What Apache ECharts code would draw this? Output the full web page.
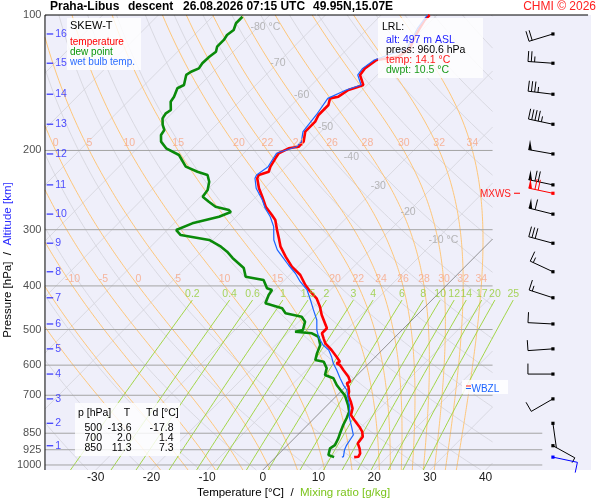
<!DOCTYPE html>
<html>
<head>
<meta charset="utf-8">
<script src="https://cdn.jsdelivr.net/npm/echarts@6/dist/echarts.min.js"></script>
<style>
html, body { margin: 0; padding: 0; background: #fff; }
#chart { width: 600px; height: 500px; }
</style>
</head>
<body>
<div id="chart"></div>
<script>
// sounding profile (pressure hPa / temperature degC)
var tempP = [100,102.6,107.1,111.7,118.6,123.8,125.9,131.4,135.9,143.1,144.3,146.8,151.9,153.2,158.5,166.8,172.6,181.7,191.2,196.2,197.8,202.9,208.2,217.3,223,226.8,230.6,242.7,253.4,266.7,278.3,285.5,300.5,313.4,327.2,344.4,362.4,378.2,398.1,412,426.3,444.9,464.2,496.8,509.7,523,536.6,555.2,574.5,589.4,594.3,599.5,615,636.5,653,658.3,669.9,687.3,700,723.4,748.3,774.3,794.3,822,843.3,865.2,895.2,918.3,942,958.4,960.6];
var tempT = [-51.3,-51.3,-50.7,-50.1,-48.9,-49.5,-52.8,-53.4,-53.1,-50.7,-51.3,-52.5,-53.1,-54.3,-53.4,-53.4,-52.8,-52.8,-51.3,-51.3,-52.8,-53.7,-53.4,-52.8,-52.2,-53.4,-53.1,-51.0,-48.9,-46.5,-43.9,-42.4,-40.3,-38.5,-36.7,-34.0,-31.1,-28.1,-25.4,-23.3,-21.0,-18.9,-17.1,-13.8,-13.8,-12.6,-11.4,-9.1,-7.0,-5.5,-5.8,-4.9,-3.4,-1.3,-0.1,-0.4,0.5,1.5,2.0,3.6,5.1,6.0,7.5,9.6,11.0,12.0,12.3,13.5,14.5,14.8,14.1];

var dewP = [100.9,104.3,108,110.8,113.6,117.6,120.7,123.8,128,131.4,133.7,135.9,143.1,145.5,151.9,155.9,162.6,165.4,169.7,175.5,180.1,184.8,191.2,197.8,204.7,217.3,223,226.8,234.7,244.9,253.4,260,266.7,271.3,274.1,280.7,285.5,290.4,300.5,308.3,316.2,327.2,335.7,346.7,364.9,381.5,388,404.8,408.4,419,437.3,448.6,460.2,468.2,480.3,501.2,505.6,509.7,518.8,541.3,564.9,584.6,589.4,609.6,631,641.7,664.3,687.3,700,735.6,761.3,787.4,814.9,850,872.5,903.3,918.3,950.1,960.6];
var dewT = [-84.6,-84.6,-83.8,-84.1,-83.8,-83.8,-83.1,-83.4,-83.5,-83.2,-84.0,-84.3,-82.9,-83.5,-82.6,-82.3,-80.8,-81.1,-80.8,-79.6,-78.4,-78.1,-76.9,-74.8,-71.3,-68.0,-65.0,-62.6,-61.1,-59.9,-59.6,-57.6,-55.5,-52.5,-51.8,-53.1,-54.9,-56.7,-58.4,-56.7,-50.7,-47.4,-45.4,-43.3,-39.5,-37.6,-33.8,-31.7,-30.5,-30.2,-29.3,-25.4,-23.9,-20.4,-18.9,-17.8,-18.9,-15.6,-13.8,-12.0,-11.1,-10.2,-8.4,-6.7,-5.8,-3.7,-1.9,0.2,1.4,3.7,5.1,5.8,6.4,7.3,7.9,8.5,8.2,9.1,10.5];

var wetP = [100,107.1,118.6,125.9,131.4,135.9,143.1,146.8,153.2,166.8,181.7,191.2,196.2,202.9,217.3,226.8,230.6,242.7,257.7,268.9,280.7,295.4,316.2,332.7,344.4,359.4,374.9,391.5,408.4,429.9,452.2,476.1,501.2,518.8,541.3,555.2,574.5,594.3,615,641.7,664.3,681.3,711,742.1,781.2,822,857.7,880,903.3,926.4,958.4,960.6];
var wetT = [-51.7,-51.1,-49.4,-53.2,-53.8,-53.5,-51.1,-52.9,-54.7,-53.8,-53.2,-51.7,-51.7,-54.1,-53.2,-53.8,-53.5,-51.5,-48.3,-46.3,-43.9,-41.5,-39.1,-36.7,-34.6,-32.0,-29.3,-26.9,-24.2,-21.8,-19.5,-17.1,-15.3,-13.8,-11.5,-9.6,-7.9,-6.4,-4.6,-2.5,-0.7,0.8,2.5,4.3,6.0,8.2,10.0,10.3,10.6,11.1,12.1,11.9];

// altitude marks (km) and the pressure where they sit; winds at those levels
var altKm = [1,2,3,4,5,6,7,8,9,10,11,12,13,14,15,16];
var altP = [906,808,713,628,552,486,425,372,321.5,277,238.5,203.6,174.9,150,128,110.2];
var windDir = [119,172,240,270,266,273,288,295,285,284,282,280,282,277,274,253];
var windKt = [5,2,10,10,10,10,15,15,30,60,70,50,45,35,25,20];
var mxwsP = 249, mxwsDir = 282, mxwsKt = 70;
var sfcP = 960.6, sfcDir = 102, sfcKt = 10;
var wbzlP = 671;

var pressTicks = [100,200,300,400,500,600,700,850,925,1000];
var pressLines = [200,300,400,500,600,700,850,925,1000];
var isoLabelT = [-80,-70,-60,-50,-40,-30,-20,-10];
var isoLabelP = [106.3,127.8,150.6,177.4,206.8,239.9,274.1,316.2];
var mixRatios = [0.2,0.4,0.6,1,1.5,2,3,4,6,8,10,12,14,17,20,25];
var thetaW = [-20,-15,-10,-5,0,5,10,15,20,22,24,26,28,30,32,34];

var tableP = [500,700,850];
var tableT = [-13.6,2.0,11.3];
var tableTd = [-17.8,1.4,7.3];
var lrlAlt = 497, lrlPress = 960.6, lrlTemp = 14.1, lrlDwpt = 10.5;

// diagram geometry
var PB = 1026, SKEW = 80.36;
var XL = (45 - 264) / 5.6, XR = (495 - 264) / 5.6, XR2 = (545 - 264) / 5.6, XEND = (591 - 264) / 5.6;
var XALT = (50 - 264) / 5.6, XBARB = (555.7 - 264) / 5.6;
var FONT = '"Liberation Sans", Arial, sans-serif';
var BRK = ['-', '-'];

function sx(T, p) { return T + SKEW * Math.log10(PB / p); }

function clipInto(out, pts, xl, xr) {
    var prevIn = null;
    for (var i = 0; i < pts.length; i++) {
        var x = pts[i][0], p = pts[i][1];
        var inside = x >= xl && x <= xr;
        if (i > 0 && inside !== prevIn) {
            var x0 = pts[i - 1][0], p0 = pts[i - 1][1];
            var b = (x < xl || x0 < xl) ? xl : xr;
            var t = (b - x0) / (x - x0);
            out.push([b, Math.exp(Math.log(p0) + t * (Math.log(p) - Math.log(p0)))]);
            if (!inside) out.push(BRK);
        }
        if (inside) out.push([x, p]);
        prevIn = inside;
    }
    out.push(BRK);
}

var pGrid = [];
for (var pp = PB; pp > 100; pp -= 6) pGrid.push(pp);
pGrid.push(100);

// isotherms
var isoData = [];
for (var T = -130; T <= 50; T += 10) {
    if (T === 0) continue;
    clipInto(isoData, [[sx(T, PB), PB], [sx(T, 100), 100]], XL, XR);
}
var zeroIso = [];
clipInto(zeroIso, [[sx(0, PB), PB], [sx(0, 100), 100]], XL, XR);

// dry adiabats
var dryData = [];
for (var th = 220; th <= 500; th += 10) {
    clipInto(dryData, pGrid.map(function (p) {
        return [sx(th * Math.pow(p / 1000, 0.286) - 273.15, p), p];
    }), XL, XR);
}

// pseudo-adiabats
function esat(tc) { return 6.112 * Math.exp(17.67 * tc / (tc + 243.5)); }
function dTdp(p, tk) {
    var es = esat(tk - 273.15), rs = 0.622 * es / (p - es);
    var num = 287.04 * tk + 2.501e6 * rs;
    var den = 1005.7 + 2.501e6 * 2.501e6 * rs * 0.622 / (287.04 * tk * tk);
    return num / (den * p);
}
function rk(p, tk, h) {
    var k1 = dTdp(p, tk), k2 = dTdp(p + h / 2, tk + h / 2 * k1);
    var k3 = dTdp(p + h / 2, tk + h / 2 * k2), k4 = dTdp(p + h, tk + h * k3);
    return tk + h / 6 * (k1 + 2 * k2 + 2 * k3 + k4);
}
var moistData = [], moistLabels = [];
thetaW.forEach(function (tw) {
    var down = [], up = [], tk = tw + 273.15, p = 1000;
    while (p < PB - 0.01) { tk = rk(p, tk, 2); p += 2; down.push([p, tk]); }
    tk = tw + 273.15; p = 1000; up.push([p, tk]);
    while (p > 100.01) {
        tk = rk(p, tk, -4); p -= 4; up.push([p, tk]);
        if (p === 200 || p === 400) {
            var xx = sx(tk - 273.15, p);
            if (xx > XL + 1 && xx < XR) moistLabels.push([xx, p, tw]);
        }
    }
    var pts = down.reverse().concat(up).map(function (d) { return [sx(d[1] - 273.15, d[0]), d[0]]; });
    clipInto(moistData, pts, XL, XR);
});

// mixing ratio lines
function tdFromE(e) { var l = Math.log(e / 6.112); return 243.5 * l / (17.67 - l); }
var mixData = [], mixLabels = [];
mixRatios.forEach(function (w) {
    var ps = [];
    for (var p = PB; p > 430; p -= 20) ps.push(p);
    ps.push(430);
    ps.forEach(function (p) { mixData.push([sx(tdFromE(w * p / (622 + w)), p), p]); });
    mixData.push(BRK);
    mixLabels.push([sx(tdFromE(w * 430 / (622 + w)), 430), 430, w]);
});

var pLineData = [];
pressLines.forEach(function (p) {
    pLineData.push([XL, p], [p >= 850 ? XR2 : XR, p], BRK);
});

function profile(P, T) { return P.map(function (p, i) { return [sx(T[i], p), p]; }); }

function lineSeries(data, color, width, z) {
    return { type: 'line', data: data, symbol: 'none', silent: true, clip: false,
        connectNulls: false, lineStyle: { color: color, width: width }, z: z || 2, animation: false };
}
function labelSeries(data, label, extra) {
    return Object.assign({ type: 'scatter', data: data, symbol: 'circle', symbolSize: 1, silent: true,
        itemStyle: { color: 'rgba(0,0,0,0)' }, label: Object.assign({ show: true, fontFamily: FONT }, label),
        z: 4, animation: false }, extra || {});
}

function barb(cx, cy, dir, kt, color) {
    var a = dir * Math.PI / 180, ux = Math.sin(a), uy = -Math.cos(a), px = -uy, py = ux;
    var L = 25, ch = [], d = L, rest = Math.round(kt / 5) * 5;
    function seg(x1, y1, x2, y2) {
        ch.push({ type: 'line', shape: { x1: x1, y1: y1, x2: x2, y2: y2 }, style: { stroke: color, lineWidth: 1 } });
    }
    seg(cx, cy, cx + ux * L, cy + uy * L);
    ch.push({ type: 'rect', shape: { x: cx - 1.6, y: cy - 1.6, width: 3.2, height: 3.2 }, style: { fill: color } });
    while (rest >= 50) {
        var bx = cx + ux * d, by = cy + uy * d;
        ch.push({ type: 'polygon', shape: { points: [[bx, by], [bx + px * 10, by + py * 10], [cx + ux * (d - 3.6), cy + uy * (d - 3.6)]] },
            style: { fill: color } });
        d -= 6.6; rest -= 50;
    }
    while (rest >= 10) {
        seg(cx + ux * d, cy + uy * d, cx + ux * d + px * 10.5, cy + uy * d + py * 10.5);
        d -= 3.3; rest -= 10;
    }
    if (rest >= 5) seg(cx + ux * d, cy + uy * d, cx + ux * d + px * 5.5, cy + uy * d + py * 5.5);
    return { type: 'group', children: ch };
}
function barbSeries(data, color) {
    return { type: 'custom', data: data, silent: true, clip: false, z: 6, animation: false,
        renderItem: function (params, api) {
            var c = api.coord([api.value(0), api.value(1)]);
            return barb(c[0], c[1], api.value(2), api.value(3), color);
        } };
}

function txt(x, y, s, size, color, extra) {
    return { type: 'text', x: x, y: y, z: 100, silent: true, style: Object.assign({
        text: s, fill: color || '#000', font: (size || 11) + 'px ' + FONT,
        align: 'left', verticalAlign: 'middle', textAlign: 'left', textVerticalAlign: 'middle' }, extra || {}) };
}
function box(x, y, w, h) {
    return { type: 'rect', z: 99, silent: true, shape: { x: x, y: y, width: w, height: h },
        style: { fill: 'rgba(255,255,255,0.82)' } };
}
var right = { align: 'right', textAlign: 'right' };
var bold = { font: 'bold 12px ' + FONT };

var graphics = [
    { type: 'rect', z: -10, silent: true, shape: { x: 45, y: 15, width: 546, height: 455 }, style: { fill: '#efeffa' } },
    txt(50, 7, 'Praha-Libus', 12, '#000', bold),
    txt(128, 7, 'descent', 12, '#000', bold),
    txt(183, 7, '26.08.2026 07:15 UTC', 12, '#000', bold),
    txt(313, 7, '49.95N,15.07E', 12, '#000', bold),
    txt(596, 7, 'CHMI \u00a9 2026', 12, '#ff2020', right),
    box(67, 18, 74, 52),
    txt(70, 26, 'SKEW-T', 11),
    txt(70, 42, 'temperature', 10, '#ff0000'),
    txt(70, 52, 'dew point', 10, '#0a960a'),
    txt(70, 62, 'wet bulb temp.', 10, '#2a6cff'),
    box(378, 18, 105, 60),
    txt(382, 27, 'LRL:', 10.5),
    txt(386, 40, 'alt: ' + lrlAlt + ' m ASL', 10.5, '#1c1cff'),
    txt(386, 50, 'press: ' + lrlPress.toFixed(1) + ' hPa', 10.5),
    txt(386, 60, 'temp: ' + lrlTemp.toFixed(1) + ' \u00b0C', 10.5, '#ff1a1a'),
    txt(386, 70, 'dwpt: ' + lrlDwpt.toFixed(1) + ' \u00b0C', 10.5, '#1a9a1a'),
    box(75, 403, 105, 53),
    txt(78, 413.3, 'p [hPa]', 10.5),
    txt(127, 413.3, 'T', 10.5, '#000', { align: 'center', textAlign: 'center' }),
    txt(146, 413.3, 'Td [\u00b0C]', 10.5),
    { type: 'text', x: 197, y: 493, z: 100, silent: true, style: {
        text: '{a|Temperature [\u00b0C]}  /  {b|Mixing ratio [g/kg]}', fill: '#000', font: '11.5px ' + FONT,
        verticalAlign: 'middle', textVerticalAlign: 'middle',
        rich: { a: { fill: '#000', font: '11.5px ' + FONT }, b: { fill: '#7cc41c', font: '11.5px ' + FONT } } } },
    { type: 'text', x: 8, y: 260, rotation: Math.PI / 2, z: 100, silent: true, style: {
        text: '{a|Pressure [hPa]}  /  {b|Altitude [km]}', fill: '#000', font: '11.5px ' + FONT,
        align: 'center', textAlign: 'center', verticalAlign: 'middle', textVerticalAlign: 'middle',
        rich: { a: { fill: '#000', font: '11.5px ' + FONT }, b: { fill: '#2a2aff', font: '11.5px ' + FONT } } } }
];
tableP.forEach(function (p, i) {
    var y = 428.3 + i * 10;
    graphics.push(txt(102, y, String(p), 10.5, '#000', right));
    graphics.push(txt(131.5, y, tableT[i].toFixed(1), 10.5, '#000', right));
    graphics.push(txt(173.5, y, tableTd[i].toFixed(1), 10.5, '#000', right));
});

var windData = altP.map(function (p, i) { return [XBARB, p, windDir[i], windKt[i]]; });

var option = {
    animation: false,
    grid: { left: 40, right: 0, top: 15, bottom: 30 },
    xAxis: {
        type: 'value', min: -40, max: 60, interval: 10,
        axisLine: { show: false }, axisTick: { show: false }, splitLine: { show: false },
        axisLabel: { margin: 2, fontSize: 12, color: '#222', fontFamily: FONT,
            formatter: function (v) { return (v < -30 || v > 40) ? '' : String(v); } }
    },
    yAxis: {
        type: 'log', logBase: 10, min: 100, max: PB, inverse: true,
        axisLine: { show: false }, axisTick: { show: false }, splitLine: { show: false }, axisLabel: { show: false }
    },
    graphic: graphics,
    series: [
        lineSeries(dryData, '#d3d3da', 0.8),
        lineSeries(isoData, '#d3d3da', 0.8),
        lineSeries(moistData, '#ffc26c', 0.9),
        lineSeries(mixData, '#9ad234', 0.9),
        lineSeries(pLineData, '#a4a4a4', 1),
        lineSeries(zeroIso, '#7a7a7a', 0.8),
        lineSeries([[XL, 100], [XEND, 100], BRK, [XL, 100], [XL, PB]], '#000', 1),
        lineSeries(profile(dewP, dewT), '#0a8a0a', 2.6, 3),
        lineSeries(profile(tempP, tempT), '#ff0000', 2.6, 3),
        lineSeries(profile(wetP, wetT), '#1c64ff', 1.2, 3),
        labelSeries(pressTicks.map(function (p) { return [XL, p]; }),
            { position: 'left', distance: 3, fontSize: 11, color: '#222', formatter: function (o) { return o.value[1]; } }),
        labelSeries(altP.map(function (p, i) { return [XALT, p, altKm[i]]; }),
            { position: 'right', distance: 2, fontSize: 10.5, color: '#2222ff', formatter: function (o) { return o.value[2]; } },
            { symbol: 'rect', symbolSize: [6.5, 1.4], itemStyle: { color: '#2222ff' } }),
        labelSeries(isoLabelT.map(function (t, i) { return [sx(t, isoLabelP[i]), isoLabelP[i], t]; }),
            { position: 'right', distance: 0, offset: [-8, 0], fontSize: 10.5, color: '#a6a6a6',
              formatter: function (o) { var t = o.value[2]; return (t === -80 || t === -10) ? t + ' \u00b0C' : String(t); } }),
        labelSeries(moistLabels,
            { position: 'top', distance: 1, offset: [0, 0], fontSize: 10.5, color: '#f8a684', formatter: function (o) { return o.value[2]; } }),
        labelSeries(mixLabels,
            { position: 'top', distance: 0, fontSize: 10.5, color: '#94cc34', formatter: function (o) { return o.value[2]; } }),
        barbSeries(windData, '#000'),
        barbSeries([[XBARB, mxwsP, mxwsDir, mxwsKt]], '#ff0000'),
        barbSeries([[XBARB, sfcP, sfcDir, sfcKt]], '#0000ff'),
        {
            type: 'custom', data: [[0, mxwsP, 0], [0, wbzlP, 1]], silent: true, clip: false, z: 7, animation: false,
            renderItem: function (params, api) {
                var y = api.coord([0, api.value(1)])[1];
                var f = '10px ' + FONT;
                if (api.value(2) === 0) {
                    return { type: 'group', children: [
                        { type: 'text', style: { text: 'MXWS', x: 511, y: y + 1, fill: '#ff2020', font: f,
                            align: 'right', textAlign: 'right', verticalAlign: 'middle', textVerticalAlign: 'middle' } },
                        { type: 'line', shape: { x1: 514, y1: y, x2: 520, y2: y }, style: { stroke: '#ff2020', lineWidth: 1.2 } }
                    ] };
                }
                return { type: 'group', children: [
                    { type: 'rect', shape: { x: 462, y: y - 7, width: 46, height: 14 }, style: { fill: 'rgba(255,255,255,0.85)' } },
                    { type: 'line', shape: { x1: 466, y1: y - 1, x2: 471, y2: y - 1 }, style: { stroke: '#ff2020', lineWidth: 1 } },
                    { type: 'line', shape: { x1: 466, y1: y + 1.5, x2: 471, y2: y + 1.5 }, style: { stroke: '#1c64ff', lineWidth: 1 } },
                    { type: 'text', style: { text: 'WBZL', x: 471.5, y: y + 2, fill: '#1c64ff', font: f,
                        align: 'left', textAlign: 'left', verticalAlign: 'middle', textVerticalAlign: 'middle' } }
                ] };
            }
        }
    ]
};

var chart = echarts.init(document.getElementById('chart'));
chart.setOption(option);
</script>
</body>
</html>
